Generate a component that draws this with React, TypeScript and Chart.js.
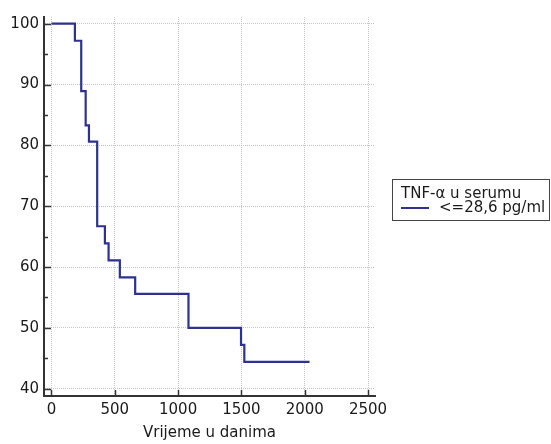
import { useEffect, useRef } from "react";
import { Chart, registerables } from "chart.js";

Chart.register(...registerables);

const times = [0, 185, 235, 270, 296, 361, 422, 451, 540, 661, 1082, 1497, 1523, 2038];
const survival = [100, 97.2, 88.9, 83.3, 80.6, 66.7, 63.9, 61.1, 58.3, 55.6, 50.0, 47.2, 44.4, 44.4];
const xTicks = [0, 500, 1000, 1500, 2000, 2500];
const yTicks = [40, 50, 60, 70, 80, 90, 100];
const yMinorTicks = [45, 55, 65, 75, 85, 95];
const seriesLabel = "<=28,6 pg/ml";
const legendTitle = "TNF-α u serumu";
const xTitle = "Vrijeme u danima";

const FONT = "'DejaVu Sans', 'Liberation Sans', Arial, sans-serif";
const LINE_COLOR = "#2e3192";

const overlayPlugin = {
  id: "overlay",
  afterDraw(chart: any) {
    const ctx = chart.ctx;
    const xs = chart.scales.x;
    const ys = chart.scales.y;
    const area = chart.chartArea;
    ctx.save();
    ctx.strokeStyle = "#333";
    ctx.lineWidth = 1.5;
    ctx.setLineDash([]);
    for (const v of yTicks) {
      const py = Math.round(ys.getPixelForValue(v)) + 0.5;
      ctx.beginPath();
      ctx.moveTo(area.left, py);
      ctx.lineTo(area.left + 7, py);
      ctx.stroke();
    }
    for (const v of yMinorTicks) {
      const py = Math.round(ys.getPixelForValue(v)) + 0.5;
      ctx.beginPath();
      ctx.moveTo(area.left, py);
      ctx.lineTo(area.left + 4, py);
      ctx.stroke();
    }
    for (const v of xTicks) {
      const px = Math.round(xs.getPixelForValue(v)) + 0.5;
      ctx.beginPath();
      ctx.moveTo(px, area.bottom);
      ctx.lineTo(px, area.bottom - 6);
      ctx.stroke();
    }
    ctx.fillStyle = "#1a1a1a";
    ctx.font = `15px ${FONT}`;
    ctx.textAlign = "center";
    ctx.textBaseline = "middle";
    ctx.fillText(xTitle, (area.left + area.right) / 2, 433);
    ctx.strokeStyle = "#444";
    ctx.lineWidth = 1;
    ctx.strokeRect(392.5, 179.5, 157, 41);
    ctx.textAlign = "left";
    ctx.fillText(legendTitle, 401, 194);
    ctx.strokeStyle = LINE_COLOR;
    ctx.lineWidth = 2;
    ctx.beginPath();
    ctx.moveTo(401, 208);
    ctx.lineTo(429, 208);
    ctx.stroke();
    ctx.fillText(seriesLabel, 439, 208);
    ctx.restore();
  },
};

export default function App() {
  const ref = useRef<HTMLCanvasElement | null>(null);
  useEffect(() => {
    if (!ref.current) return;
    const chart = new Chart(ref.current, {
      type: "line",
      data: {
        datasets: [
          {
            label: seriesLabel,
            data: times.map((t, i) => ({ x: t, y: survival[i] })),
            stepped: "before",
            borderColor: LINE_COLOR,
            borderWidth: 2.2,
            pointRadius: 0,
            fill: false,
          },
        ],
      },
      options: {
        animation: false,
        responsive: false,
        devicePixelRatio: 1,
        layout: { padding: { left: 0, top: 17, right: 176, bottom: 0 } },
        plugins: { legend: { display: false }, tooltip: { enabled: false } },
        scales: {
          x: {
            type: "linear",
            min: -59,
            max: 2555,
            afterBuildTicks: (s: any) => {
              s.ticks = xTicks.map((v) => ({ value: v }));
            },
            afterFit: (s: any) => {
              s.height = 48;
            },
            grid: { color: "#c6c6c6", lineWidth: 1, drawTicks: false },
            border: { display: true, color: "#333", width: 2, dash: [1, 1] },
            ticks: {
              padding: 5,
              color: "#1a1a1a",
              font: { family: FONT, size: 15 },
              maxRotation: 0,
              callback: (v: any) => String(v),
            },
          },
          y: {
            type: "linear",
            min: 38.8,
            max: 101.1,
            afterBuildTicks: (s: any) => {
              s.ticks = yTicks.map((v) => ({ value: v }));
            },
            afterFit: (s: any) => {
              s.width = 44;
            },
            grid: { color: "#c6c6c6", lineWidth: 1, drawTicks: false },
            border: { display: true, color: "#333", width: 2, dash: [1, 1] },
            ticks: {
              padding: 5,
              color: "#1a1a1a",
              font: { family: FONT, size: 15 },
              callback: (v: any) => String(v),
            },
          },
        },
      },
      plugins: [overlayPlugin],
    });
    return () => chart.destroy();
  }, []);
  return (
    <div style={{ position: "absolute", left: 0, top: 0, width: 551, height: 444, background: "#fff" }}>
      <canvas ref={ref} width={551} height={444} style={{ display: "block" }} />
    </div>
  );
}
